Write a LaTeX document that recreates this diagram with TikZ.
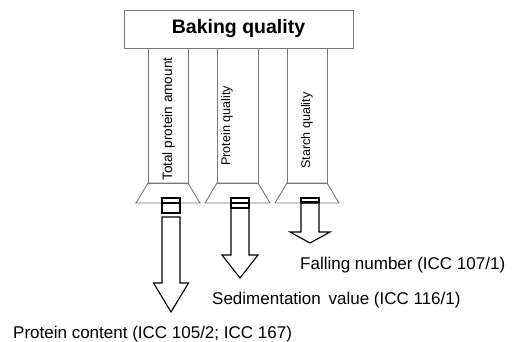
\documentclass[tikz,border=0pt]{standalone}
\usepackage{fontspec}
\setmainfont{Liberation Sans}
\definecolor{frame}{RGB}{120,120,120}
\begin{document}
\begin{tikzpicture}[x=1pt,y=-1pt,
  framebox/.style={draw=frame, line width=0.9pt},
  arrowline/.style={draw=black, line width=1.1pt, line join=miter},
  label/.style={anchor=base west, inner sep=0pt, font=\fontsize{17}{20}\selectfont},
  vlabel/.style={anchor=base west, inner sep=0pt, rotate=90}]
\useasboundingbox (0,0) rectangle (515,342);
% title box
\node[framebox, minimum width=229pt, minimum height=38pt, inner sep=0pt,
      font=\bfseries\fontsize{19.5}{22}\selectfont] (title) at (238.5,29) {Baking quality};
% columns
\draw[framebox] (148,48) rectangle (188,183);
\draw[framebox] (217,48) rectangle (258,183);
\draw[framebox] (287,48) rectangle (327,183);
\node[vlabel, font=\fontsize{13.6}{16}\selectfont] (c1) at (172,181) {Total protein amount};
\node[vlabel, font=\fontsize{12.6}{15}\selectfont] (c2) at (230,166) {Protein quality};
\node[vlabel, font=\fontsize{12.6}{15}\selectfont] (c3) at (310,169) {Starch quality};
% sockets
\draw[framebox] (148,183) -- (136,203) -- (200,203) -- (188,183) -- cycle;
\draw[framebox] (217,183) -- (205,203) -- (270,203) -- (258,183) -- cycle;
\draw[framebox] (287,183) -- (275,203) -- (339,203) -- (327,183) -- cycle;
% arrow 1 (pulled out)
\draw[arrowline] (162,198) rectangle (180,203);
\draw[arrowline] (162,203) rectangle (180,213);
\draw[arrowline] (162,217) -- (180,217) -- (180,283) -- (188.5,283) -- (171,312)
   -- (153.5,283) -- (162,283) -- cycle;
% arrow 2
\draw[arrowline] (231,198) rectangle (249,203);
\draw[arrowline] (231,203) rectangle (249,208);
\draw[arrowline] (231,208) -- (249,208) -- (249,255) -- (258,255) -- (240,278)
   -- (222,255) -- (231,255) -- cycle;
% arrow 3 (fully inserted)
\draw[arrowline, line width=2pt] (301,198.5) rectangle (319,202.5);
\draw[arrowline] (301,203) -- (319,203) -- (319,232) -- (330,232) -- (310,243)
   -- (290,232) -- (301,232) -- cycle;
% labels
\node[label] (t3) at (300,270) {Falling number (ICC 107/1)};
\node[label] (t2) at (212,305) {Sedimentation\hspace{3pt} value (ICC 116/1)};
\node[label] (t1) at (13,339) {Protein content (ICC 105/2; ICC 167)};
\end{tikzpicture}
\end{document}
